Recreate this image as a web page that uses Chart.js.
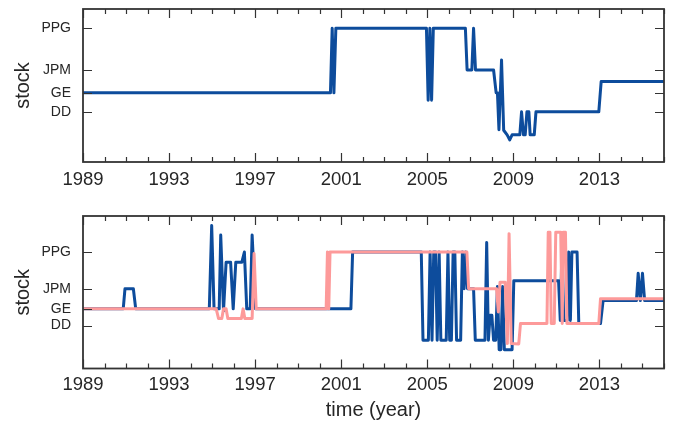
<!DOCTYPE html>
<html>
<head>
<meta charset="utf-8">
<script src="https://cdn.jsdelivr.net/npm/chart.js@4.4.0/dist/chart.umd.min.js"></script>
<style>
  html, body { margin: 0; padding: 0; background: #fff; }
  #wrap { position: relative; width: 677px; height: 424px; }
  canvas { position: absolute; left: 0; }
  #topChart { top: 0; }
  #bottomChart { top: 200px; }
</style>
</head>
<body>
<div id="wrap">
  <canvas id="topChart" width="677" height="200"></canvas>
  <canvas id="bottomChart" width="677" height="224"></canvas>
</div>
<script>
// tick labels
const majorYears = [1989, 1993, 1997, 2001, 2005, 2009, 2013];
const stockNames = ['DD', 'GE', 'JPM', 'PPG'];
const stockLevels = [0, 22.7, 50, 100];

// top panel: one series
const topYears = [1989, 2000.50, 2000.58, 2000.66, 2000.75, 2004.96, 2005.04, 2005.12, 2005.20, 2005.28,
  2006.77, 2006.85, 2007.07, 2007.15, 2007.24, 2008.08, 2008.20, 2008.26, 2008.33, 2008.45,
  2008.55, 2008.71, 2008.83, 2008.94, 2009.30, 2009.38, 2009.47, 2009.55, 2009.63, 2009.72,
  2009.78, 2009.97, 2010.05, 2012.97, 2013.08, 2016];
const topStock = [22.7, 22.7, 100, 22.7, 100, 100, 14, 100, 14, 100,
  100, 50, 50, 100, 50, 50, 22.7, 22.7, -21.5, 62,
  -22, -27.5, -33.5, -27.5, -27.5, 0, -27.5, -27.5, 0, 0,
  -27.5, -27.5, 0, 0, 36.2, 36.2];

// bottom panel: blue series
const blueYears = [1989, 1990.87, 1990.95, 1991.34, 1991.45, 1994.87, 1994.98, 1995.09, 1995.33, 1995.40,
  1995.53, 1995.65, 1995.86, 1995.98, 1996.10, 1996.38, 1996.50, 1996.61, 1996.77, 1996.86,
  1997.02, 2001.45, 2001.53, 2004.72, 2004.80, 2005.05, 2005.13, 2005.22, 2005.30, 2005.38,
  2005.46, 2005.55, 2005.63, 2005.88, 2005.96, 2006.04, 2006.12, 2006.20, 2006.28, 2006.36,
  2006.55, 2006.63, 2006.71, 2006.79, 2006.87, 2007.15, 2007.23, 2007.68, 2007.76, 2007.84,
  2007.92, 2008.00, 2008.08, 2008.18, 2008.26, 2008.34, 2008.42, 2008.50, 2008.58, 2008.94,
  2009.02, 2011.10, 2011.18, 2011.26, 2011.34, 2011.50, 2011.57, 2011.65, 2011.72, 2011.96,
  2012.04, 2013.05, 2013.17, 2014.72, 2014.80, 2014.90, 2015.00, 2015.10, 2016];
const blueStock = [22.7, 22.7, 50, 50, 22.7, 22.7, 136, 22.7, 22.7, 123,
  20, 86, 86, 22.7, 86, 86, 100, 22.7, 22.7, 123,
  22.7, 22.7, 100, 100, -20, -20, 100, -20, 100, 100,
  -20, 100, -20, -20, 100, -20, -20, 100, 100, -20,
  -20, 100, 50, 100, 50, 50, -20, -20, 113, -20,
  14, 14, -20, -20, 53, -33, -33, 53, -33, -33,
  61, 61, 7, 107, 7, 7, 100, 7, 100, 100,
  2.7, 2.7, 34, 34, 71, 34, 71, 34, 34];

// bottom panel: pink series
const pinkYears = [1989, 1995.19, 1995.30, 1995.45, 1995.53, 1995.65, 1995.73, 1996.36, 1996.44, 1996.52,
  1996.86, 1996.95, 1997.05, 2000.30, 2000.36, 2000.42, 2000.48, 2006.84, 2006.92, 2008.22,
  2008.30, 2008.38, 2008.62, 2008.72, 2008.80, 2008.90, 2009.25, 2009.33, 2010.56, 2010.62,
  2010.70, 2010.76, 2010.90, 2010.97, 2011.20, 2011.27, 2011.32, 2011.42, 2011.49, 2012.97,
  2013.05, 2016];
const pinkStock = [22.7, 22.7, 9.5, 9.5, 22.7, 22.7, 9.5, 9.5, 22.7, 9.5,
  9.5, 98, 22.7, 22.7, 100, 22.7, 100, 100, 50, 50,
  18.5, 59, 59, -24.5, 125, -24.5, -25, 2.7, 2.7, 127,
  127, 2.7, 2.7, 127, 127, 2.7, 127, 127, 2.7, 2.7,
  36.5, 36.5];

const BLUE = '#0d4c9c';
const PINK = '#fd9a9a';
const TEXT = '#262626';
const FONT = "'Liberation Sans', Arial, sans-serif";

// frame + inward ticks like the original
const frameTicks = {
  id: 'frameTicks',
  afterDatasetsDraw(chart) {
    const { ctx, chartArea: a, scales: { x, y } } = chart;
    ctx.save();
    ctx.strokeStyle = '#333';
    ctx.lineWidth = 1.2;
    ctx.beginPath();
    for (let yr = 1989; yr <= 2016; yr++) {
      const px = Math.round(x.getPixelForValue(yr)) + 0.5;
      const len = majorYears.includes(yr) ? 9 : 5;
      ctx.moveTo(px, a.bottom); ctx.lineTo(px, a.bottom - len);
      ctx.moveTo(px, a.top); ctx.lineTo(px, a.top + len);
    }
    stockLevels.forEach(v => {
      const py = Math.round(y.getPixelForValue(v)) + 0.5;
      ctx.moveTo(a.left, py); ctx.lineTo(a.left + 9, py);
      ctx.moveTo(a.right, py); ctx.lineTo(a.right - 9, py);
    });
    ctx.stroke();
    ctx.lineWidth = 1.8;
    ctx.strokeRect(a.left, a.top, a.right - a.left, a.bottom - a.top);
    ctx.restore();
  }
};

function series(years, vals, color, order) {
  return {
    data: years.map((yr, i) => ({ x: yr, y: vals[i] })),
    borderColor: color,
    borderWidth: 3,
    borderJoinStyle: 'round',
    pointRadius: 0,
    tension: 0,
    fill: false,
    order: order
  };
}

function createChart(id, datasets, yMin, yMax, padTop, xHeight, xTitle, xPad) {
  return new Chart(document.getElementById(id), {
    type: 'line',
    data: { datasets },
    options: {
      responsive: false,
      animation: false,
      events: [],
      layout: { padding: { top: padTop, right: 13, left: 0, bottom: 0 } },
      plugins: { legend: { display: false }, tooltip: { enabled: false } },
      scales: {
        x: {
          type: 'linear', min: 1989, max: 2016,
          afterBuildTicks: s => { s.ticks = majorYears.map(v => ({ value: v })); },
          afterFit: s => { s.height = xHeight; s.paddingLeft = 0; s.paddingRight = 0; },
          grid: { display: false, drawTicks: false },
          border: { display: false },
          ticks: { autoSkip: false, maxRotation: 0, padding: xPad, color: TEXT,
                   font: { family: FONT, size: 18.5 }, callback: v => String(v) },
          title: { display: !!xTitle, text: xTitle, color: TEXT,
                   font: { family: FONT, size: 20 }, padding: { top: 0, bottom: 2 } }
        },
        y: {
          type: 'linear', min: yMin, max: yMax,
          afterBuildTicks: s => { s.ticks = stockLevels.map(v => ({ value: v })); },
          afterFit: s => { s.width = 83; s.paddingTop = 0; s.paddingBottom = 0; },
          grid: { display: false, drawTicks: false },
          border: { display: false },
          ticks: { padding: 12, color: TEXT, font: { family: FONT, size: 14 },
                   callback: v => stockNames[stockLevels.indexOf(v)] ?? '' },
          title: { display: true, text: 'stock', color: TEXT,
                   font: { family: FONT, size: 20 }, padding: { top: 11, bottom: 0 } }
        }
      }
    },
    plugins: [frameTicks]
  });
}

createChart('topChart', [series(topYears, topStock, BLUE, 1)], -60, 123, 9, 38, '', 7);
createChart('bottomChart', [
  series(blueYears, blueStock, BLUE, 1),
  series(pinkYears, pinkStock, PINK, 0)
], -58.4, 149, 16, 55.5, 'time (year)', 5);
</script>
</body>
</html>
